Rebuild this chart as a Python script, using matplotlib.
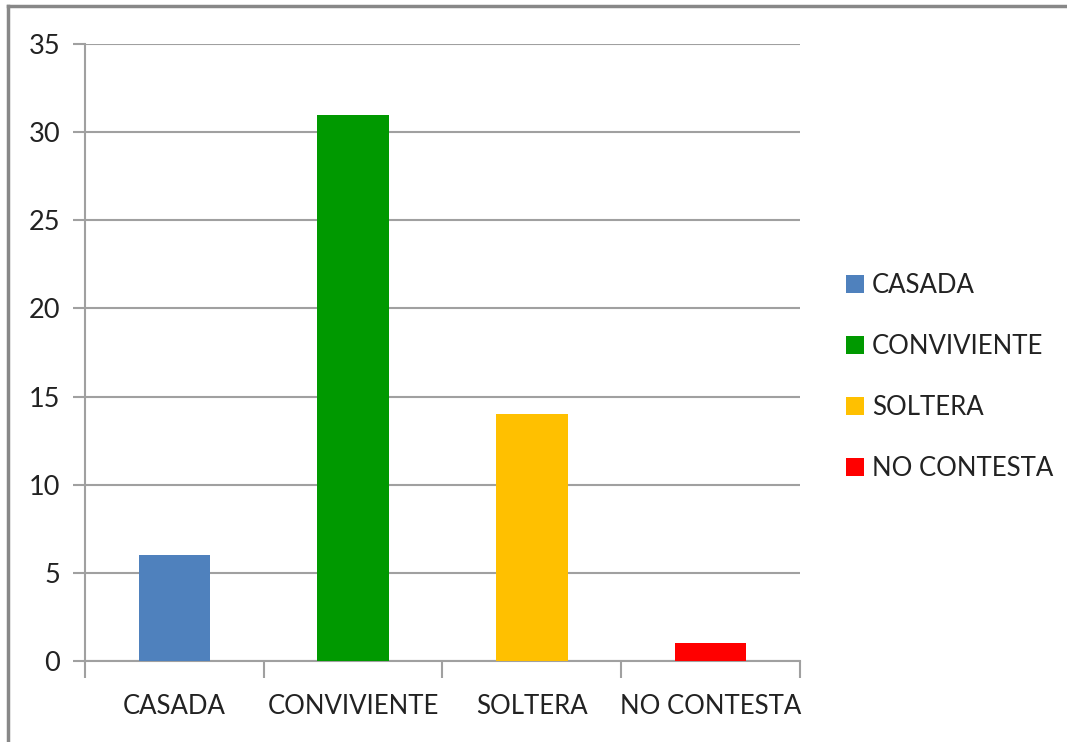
import matplotlib
matplotlib.use("Agg")
import matplotlib.pyplot as plt
from matplotlib.patches import Patch
from matplotlib.lines import Line2D
import numpy as np

categories = ["CASADA", "CONVIVIENTE", "SOLTERA", "NO CONTESTA"]
values = [6, 31, 14, 1]
colors = ["#4F81BD", "#009900", "#FFC000", "#FF0000"]
yticks = [0, 5, 10, 15, 20, 25, 30, 35]

plt.rcParams['font.family'] = ['Lato', 'DejaVu Sans']
FS = 18.5

fig = plt.figure(figsize=(10.67, 7.42), dpi=100)
ax = fig.add_axes([85/1067, 1-661/742, 715/1067, (661-44)/742])

x = np.arange(len(categories))
ax.bar(x, values, width=0.4, color=colors, zorder=3)

grid_c = "#A0A0A0"
ax.set_ylim(0, 35)
ax.set_xlim(-0.5, len(categories) - 0.5)
ax.set_yticks(yticks)
ax.set_yticklabels([str(t) for t in yticks], fontsize=FS + 1, color="#222222")
ax.yaxis.grid(True, color=grid_c, linewidth=1.5, zorder=0)
ax.set_xticks(x)
ax.set_xticklabels(categories, fontsize=FS, color="#222222")
ax.tick_params(axis='x', length=0, pad=24)
ax.set_xticks(np.arange(-0.5, len(categories)), minor=True)
ax.tick_params(axis='x', which='minor', length=12, width=1.5, color=grid_c, direction='out')
ax.tick_params(axis='y', length=9, width=1.5, color=grid_c, pad=9)
for s in ["top", "right"]:
    ax.spines[s].set_visible(False)
ax.spines["left"].set_color(grid_c)
ax.spines["left"].set_linewidth(1.5)
ax.spines["bottom"].set_color(grid_c)
ax.spines["bottom"].set_linewidth(1.5)

handles = [Patch(facecolor=c, edgecolor='none') for c in colors]
leg = fig.legend(handles, categories, loc='upper left', bbox_to_anchor=(846/1067, 1-273/742),
                 frameon=False, fontsize=FS, handlelength=0.7, handleheight=0.7,
                 handletextpad=0.3, labelspacing=1.4, borderaxespad=0, borderpad=0)
for t in leg.get_texts():
    t.set_color("#222222")

# figure border (top and left)
fig.add_artist(Line2D([8/1067, 8/1067], [0, 1-6/742], transform=fig.transFigure, color="#888888", linewidth=2.5))
fig.add_artist(Line2D([8/1067, 1], [1-6/742, 1-6/742], transform=fig.transFigure, color="#888888", linewidth=2.5))

fig.savefig("out.png", dpi=100)
